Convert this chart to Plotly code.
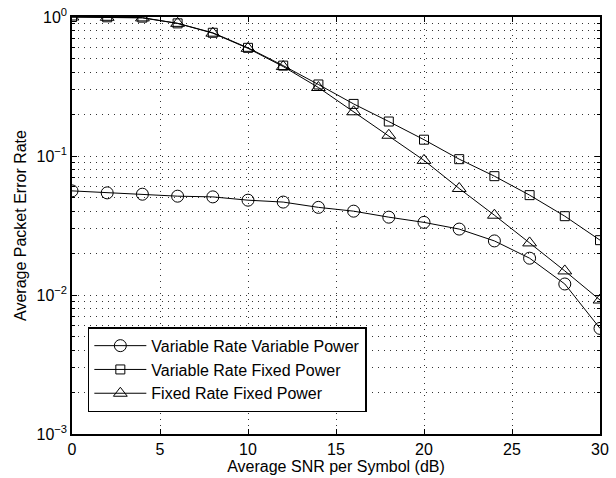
import plotly.graph_objects as go

snr = [0, 2, 4, 6, 8, 10, 12, 14, 16, 18, 20, 22, 24, 26, 28, 30]
vrvp = [0.0561, 0.0543, 0.0531, 0.0514, 0.0508, 0.0481, 0.0466, 0.0427,
        0.0401, 0.0363, 0.0333, 0.0298, 0.0245, 0.0184, 0.0120, 0.00575]
vrfp = [1.0, 0.995, 0.99, 0.90, 0.77, 0.60, 0.447, 0.327,
        0.237, 0.177, 0.131, 0.0949, 0.0716, 0.0523, 0.0369, 0.0248]
frfp = [1.0, 0.995, 0.985, 0.90, 0.765, 0.595, 0.44, 0.311,
        0.208, 0.141, 0.093, 0.0584, 0.0375, 0.0237, 0.0149, 0.0092]
names = ["Variable Rate Variable Power", "Variable Rate Fixed Power", "Fixed Rate Fixed Power"]
ytickvals = [1e-3, 1e-2, 1e-1, 1]
yticktext = ["10<sup>\u22123</sup>", "10<sup>\u22122</sup>", "10<sup>\u22121</sup>", "10<sup>0</sup>"]
yminor = [m * 10 ** e for e in (-3, -2, -1) for m in range(2, 10)]

font = "Liberation Sans, Arial, Helvetica, sans-serif"
fig = go.Figure()
specs = [(vrvp, "circle-open", 12), (vrfp, "square-open", 9), (frfp, "triangle-up-open", 12)]
for (ys, sym, sz), nm in zip(specs, names):
    fig.add_trace(go.Scatter(
        x=snr, y=ys, name=nm, mode="lines+markers",
        line=dict(color="black", width=1),
        marker=dict(symbol=sym, size=sz, color="black", line=dict(color="black", width=1)),
    ))

grid = dict(showgrid=True, gridcolor="#333", griddash="1px,5px", gridwidth=1)
fig.update_layout(
    width=616, height=478,
    margin=dict(l=72, r=16, t=17, b=44),
    paper_bgcolor="white", plot_bgcolor="white",
    font=dict(family=font, size=16, color="black"),
    showlegend=True,
    legend=dict(x=0.03, y=0.256, xanchor="left", yanchor="top",
                bgcolor="white", bordercolor="black", borderwidth=1.5,
                font=dict(size=16), tracegroupgap=0, itemwidth=52),
    xaxis=dict(range=[0, 30], tickvals=[0, 5, 10, 15, 20, 25, 30], **grid,
               showline=True, linecolor="black", linewidth=1.5, mirror="ticks",
               ticks="inside", ticklen=5, tickcolor="black", zeroline=False,
               tickfont=dict(size=16), automargin=False,
               title=dict(text="Average SNR per Symbol (dB)", font=dict(size=16), standoff=4)),
    yaxis=dict(type="log", range=[-3, 0], tickvals=ytickvals, ticktext=yticktext, **grid,
               showline=True, linecolor="black", linewidth=1.5, mirror="ticks",
               ticks="inside", ticklen=5, tickcolor="black", zeroline=False,
               tickfont=dict(size=16), automargin=False,
               minor=dict(tickvals=yminor, showgrid=True, gridcolor="#333", griddash="1px,5px",
                          gridwidth=1, ticks="inside", ticklen=3, tickcolor="black"),
               title=dict(text="Average Packet Error Rate", font=dict(size=16), standoff=6)),
)
fig.write_html("out.html", config={"displayModeBar": False},
               post_script="document.body.style.margin='0';document.body.style.overflow='hidden';")
